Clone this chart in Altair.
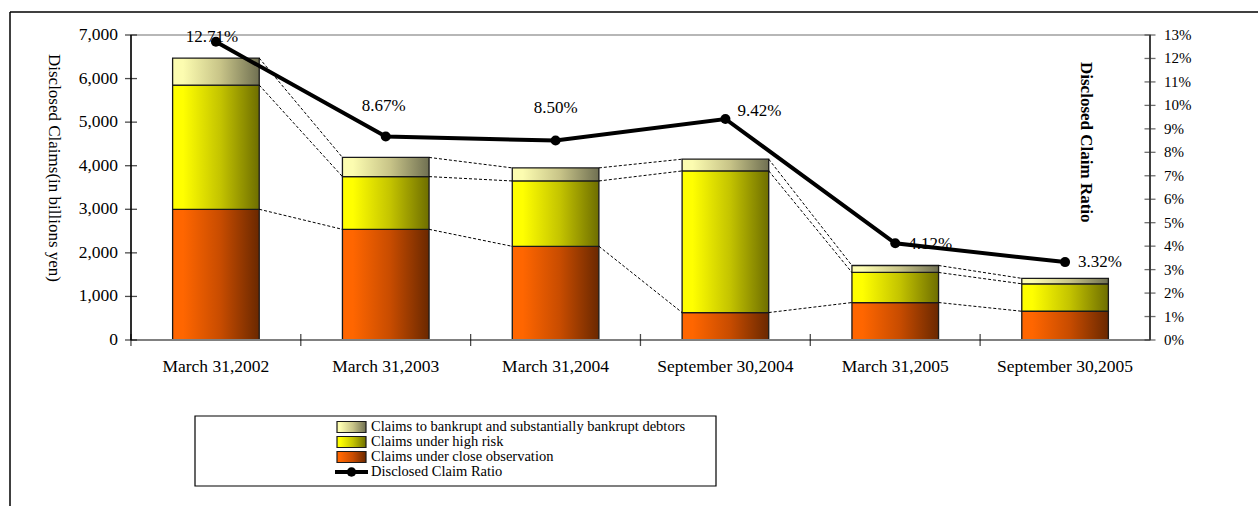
import altair as alt
import pandas as pd

# ---------------- data ----------------
dates = ["March 31,2002", "March 31,2003", "March 31,2004",
         "September 30,2004", "March 31,2005", "September 30,2005"]
close_obs = [3000, 2540, 2150, 630, 860, 660]      # Claims under close observation
high_risk = [2850, 1210, 1500, 3250, 690, 630]     # Claims under high risk
bankrupt = [620, 440, 300, 270, 160, 125]          # Claims to bankrupt ...
ratio = [12.71, 8.67, 8.50, 9.42, 4.12, 3.32]      # Disclosed Claim Ratio (%)
left_ticks = [0, 1000, 2000, 3000, 4000, 5000, 6000, 7000]
right_ticks = list(range(0, 14))
legend_labels = ["Claims to bankrupt and substantially bankrupt debtors",
                 "Claims under high risk",
                 "Claims under close observation",
                 "Disclosed Claim Ratio"]
y_title = "Disclosed Claims(in billions yen)"
r_title = "Disclosed Claim Ratio"

# ---------------- layout ----------------
W, H = 1019, 305
FONT = "Liberation Serif"

df = pd.DataFrame({"date": dates, "close": close_obs, "high": high_risk,
                   "bank": bankrupt, "ratio": ratio})
df["idx"] = range(len(dates))
df["zero"] = 0
df["c1"] = df["close"]
df["c2"] = df["close"] + df["high"]
df["c3"] = df["c2"] + df["bank"]
df["label"] = [f"{r:.2f}%" for r in ratio]

rows = []
for i in range(len(dates) - 1):
    for lev in ["c1", "c2", "c3"]:
        rows.append({"date": dates[i], "next": dates[i + 1],
                     "y": float(df.loc[i, lev]), "y2": float(df.loc[i + 1, lev])})
conn_df = pd.DataFrame(rows)

lt_df = pd.DataFrame({"v": left_ticks})
rt_df = pd.DataFrame({"v": right_ticks, "lab": [f"{v}%" for v in right_ticks]})
one = pd.DataFrame({"k": [0]})

xscale = alt.Scale(domain=dates, paddingInner=0.49, paddingOuter=0.245)
yscale = alt.Scale(domain=[0, 7000], nice=False)
rscale = alt.Scale(domain=[0, 13], nice=False)


def grad(light, mid, dark):
    return alt.LinearGradient(
        gradient="linear",
        stops=[alt.GradientStop(color=light, offset=0),
               alt.GradientStop(color=light, offset=0.12),
               alt.GradientStop(color=mid, offset=0.55),
               alt.GradientStop(color=dark, offset=1)],
        x1=0, x2=1, y1=0, y2=0)


g_orange = grad("#ff6600", "#c84c00", "#6a2800")
g_yellow = grad("#ffff00", "#c4c400", "#6e6e00")
g_bank = grad("#fcfcb0", "#c8c488", "#707052")

base = alt.Chart(df)
Xn = alt.X("date:N", scale=xscale, sort=dates, axis=None)
c1 = alt.Chart(one)

layers = []

# outer frame (top and left lines)
layers.append(c1.mark_rule(color="black", strokeWidth=1.5).encode(
    x=alt.value(-121), x2=alt.value(1140), y=alt.value(-23)))
layers.append(c1.mark_rule(color="black", strokeWidth=1.5).encode(
    x=alt.value(-121), y=alt.value(-23), y2=alt.value(480)))

# stacked bars
bar_stroke = dict(stroke="#1a1a1a", strokeWidth=1.3)
for g, lo, hi in [(g_orange, "zero", "c1"), (g_yellow, "c1", "c2"), (g_bank, "c2", "c3")]:
    layers.append(base.mark_bar(fill=g, **bar_stroke).encode(
        x=Xn, y=alt.Y(f"{lo}:Q", scale=yscale, axis=None), y2=f"{hi}:Q"))

# dashed series connectors
layers.append(alt.Chart(conn_df).mark_rule(color="black", strokeWidth=1, strokeDash=[3, 2]).encode(
    x=alt.X("date:N", scale=xscale, bandPosition=1, axis=None),
    x2=alt.X2("next:N", bandPosition=0),
    y=alt.Y("y:Q", scale=yscale, axis=None), y2="y2:Q"))

# axis lines
layers.append(c1.mark_rule(color="#808080", strokeWidth=2).encode(
    x=alt.value(0), x2=alt.value(W), y=alt.value(H)))
layers.append(c1.mark_rule(color="black", strokeWidth=1.5).encode(
    x=alt.value(0), y=alt.value(0), y2=alt.value(H)))
layers.append(c1.mark_rule(color="#404040", strokeWidth=2).encode(
    x=alt.value(W), y=alt.value(0), y2=alt.value(H)))

# left axis ticks + labels
layers.append(alt.Chart(lt_df).mark_tick(
    orient="horizontal", size=12, thickness=1.3, color="black").encode(
    y=alt.Y("v:Q", scale=yscale, axis=None), x=alt.value(0)))
layers.append(alt.Chart(lt_df).mark_text(
    font=FONT, fontSize=17.5, color="black", align="right", baseline="middle").encode(
    y=alt.Y("v:Q", scale=yscale, axis=None), x=alt.value(-13),
    text=alt.Text("v:Q", format=",")))

# category ticks + labels
layers.append(base.mark_tick(orient="vertical", size=12, thickness=1.3, color="black",
                             xOffset=-41.65).encode(
    x=alt.X("date:N", scale=xscale, bandPosition=0, axis=None), y=alt.value(H)))
layers.append(base.mark_text(font=FONT, fontSize=17.5, color="black",
                             align="center", baseline="middle").encode(
    x=Xn, y=alt.value(H + 27), text="date:N"))

# right axis ticks + labels
layers.append(alt.Chart(rt_df).mark_tick(
    orient="horizontal", size=11, thickness=1.3, color="#303030").encode(
    y=alt.Y("v:Q", scale=rscale, axis=None), x=alt.value(W)))
layers.append(alt.Chart(rt_df).mark_text(
    font=FONT, fontSize=15, color="black", align="left", baseline="middle").encode(
    y=alt.Y("v:Q", scale=rscale, axis=None), x=alt.value(W + 14), text="lab:N"))

# ratio line
Yrn = alt.Y("ratio:Q", scale=rscale, axis=None)
layers.append(base.mark_line(color="black", strokeWidth=4).encode(x=Xn, y=Yrn))
layers.append(base.mark_circle(color="black", size=100, opacity=1).encode(x=Xn, y=Yrn))

label_style = [  # (align, dx, dy) per point
    ("center", -4, -5), ("center", -2, -31), ("center", 0, -33),
    ("left", 12, -8), ("left", 13, 1), ("left", 13, 0)]
for i, (al, dx, dy) in enumerate(label_style):
    layers.append(base.transform_filter(alt.datum.idx == i).mark_text(
        font=FONT, fontSize=17, color="black", align=al, baseline="middle",
        dx=dx, dy=dy).encode(x=Xn, y=Yrn, text="label:N"))

# axis titles
layers.append(c1.mark_text(font=FONT, fontSize=17, color="black", angle=90,
                           align="center", baseline="middle").encode(
    x=alt.value(-77), y=alt.value(133), text=alt.value(y_title)))
layers.append(c1.mark_text(font=FONT, fontSize=17, fontWeight="bold", color="black",
                           angle=90, align="left", baseline="middle").encode(
    x=alt.value(955), y=alt.value(27), text=alt.value(r_title)))

# legend
layers.append(c1.mark_rect(fill="white", stroke="black", strokeWidth=1.2).encode(
    x=alt.value(64), x2=alt.value(585), y=alt.value(381), y2=alt.value(451)))
row_y = [392, 407, 422, 437]
for g, yy in zip([g_bank, g_yellow, g_orange], row_y[:3]):
    layers.append(c1.mark_rect(fill=g, stroke="#1a1a1a", strokeWidth=1.2).encode(
        x=alt.value(206), x2=alt.value(235), y=alt.value(yy - 5.5), y2=alt.value(yy + 5.5)))
layers.append(c1.mark_rule(color="black", strokeWidth=4).encode(
    x=alt.value(204), x2=alt.value(237), y=alt.value(row_y[3])))
layers.append(c1.mark_circle(color="black", size=90, opacity=1).encode(
    x=alt.value(220.5), y=alt.value(row_y[3])))
for lab, yy in zip(legend_labels, row_y):
    layers.append(c1.mark_text(font=FONT, fontSize=14.5, color="black",
                               align="left", baseline="middle").encode(
        x=alt.value(240), y=alt.value(yy), text=alt.value(lab)))

chart = alt.layer(*layers).resolve_scale(y="independent").properties(
    width=W, height=H,
    padding={"left": 131, "top": 35, "right": 108, "bottom": 166},
    autosize=alt.AutoSizeParams(type="none"),
    background="white",
).configure_view(stroke="#a0a0a0", strokeWidth=1.5)

chart.save("out.html", embed_options={"renderer": "svg", "actions": False})
